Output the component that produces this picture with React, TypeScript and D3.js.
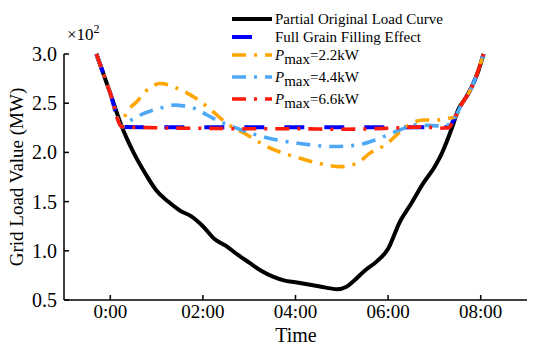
import React from "react";
import * as d3 from "d3";

type P = [number, number];

const xTickValues = [0, 2, 4, 6, 8];
const xTickLabels = ["0:00", "02:00", "04:00", "06:00", "08:00"];
const yTickValues = [0.5, 1.0, 1.5, 2.0, 2.5, 3.0];

const startSeg: P[] = [[-0.3, 3.0], [0, 2.6], [0.25, 2.26]];
const endSeg: P[] = [[7.45, 2.36], [7.6, 2.5], [7.75, 2.61], [7.9, 2.77], [8.06, 3.0]];

const originalLoad: P[] = [
  [-0.3, 3.0], [0, 2.6], [0.25, 2.26], [0.5, 2.0], [0.75, 1.79], [1.0, 1.61], [1.25, 1.5],
  [1.5, 1.41], [1.75, 1.35], [2.0, 1.25], [2.25, 1.12], [2.5, 1.05], [2.75, 0.96], [3.0, 0.88],
  [3.25, 0.8], [3.5, 0.74], [3.75, 0.7], [4.0, 0.68], [4.5, 0.64], [4.9, 0.61], [5.1, 0.635],
  [5.25, 0.69], [5.5, 0.8], [5.75, 0.89], [6.0, 1.02], [6.25, 1.29], [6.5, 1.48], [6.75, 1.68],
  [7.0, 1.85], [7.15, 1.98], [7.38, 2.25], [7.52, 2.44], [7.67, 2.55], [7.85, 2.71], [7.95, 2.83], [8.06, 3.0],
];

const fullFilling: P[] = [
  ...startSeg, [1, 2.255], [3, 2.255], [5, 2.255], [7.3, 2.255], ...endSeg,
];

const pmax22: P[] = [
  ...startSeg, [0.3, 2.35], [0.58, 2.52], [0.86, 2.66], [1.08, 2.7], [1.5, 2.64], [1.94, 2.52],
  [2.23, 2.41], [2.5, 2.3], [2.95, 2.18], [3.38, 2.06], [4.1, 1.94], [4.6, 1.88], [4.97, 1.855],
  [5.33, 1.89], [5.6, 1.99], [5.98, 2.09], [6.26, 2.21], [6.52, 2.3], [6.77, 2.33], [7.06, 2.33],
  [7.34, 2.35], ...endSeg,
];

const pmax44: P[] = [
  ...startSeg, [0.36, 2.3], [0.65, 2.38], [1.08, 2.45], [1.37, 2.48], [1.8, 2.45], [2.09, 2.38],
  [2.38, 2.31], [2.6, 2.27], [3.0, 2.2], [3.38, 2.15], [4.1, 2.09], [4.82, 2.06], [5.33, 2.075],
  [5.9, 2.16], [6.26, 2.23], [6.62, 2.28], [7.06, 2.27], [7.3, 2.28], ...endSeg,
];

const pmax66: P[] = [
  ...startSeg, [1, 2.25], [2, 2.245], [3, 2.24], [4, 2.24], [5, 2.235], [6, 2.245], [6.8, 2.26],
  [7.1, 2.245], [7.3, 2.25], ...endSeg,
];

const legendLabels = ["Partial Original Load Curve", "Full Grain Filling Effect", "=2.2kW", "=4.4kW", "=6.6kW"];

const seriesStyles = [
  { data: originalLoad, color: "#000000", dash: "", width: 4 },
  { data: fullFilling, color: "#0000FF", dash: "20,20", width: 4 },
  { data: pmax22, color: "#FFA500", dash: "14,8,3,8", width: 3.6 },
  { data: pmax44, color: "#4FA8F5", dash: "14,8,3,8", width: 3.6 },
  { data: pmax66, color: "#FF1A0A", dash: "14,8,3,8", width: 3.6 },
];

export default function App() {
  const W = 550, H = 347;
  const left = 64, right = 527, top = 54, bottom = 300;
  const x = d3.scaleLinear().domain([-1, 9]).range([left, right]);
  const y = d3.scaleLinear().domain([0.5, 3.0]).range([bottom, top]);
  const line = d3.line<P>().x(d => x(d[0])).y(d => y(d[1])).curve(d3.curveMonotoneX);
  const font = "Liberation Serif, Times New Roman, serif";
  const legendYs = [19, 37, 55, 77, 99];

  return (
    <svg width={W} height={H} style={{ position: "absolute", left: 0, top: 0, background: "#fff", fontFamily: font }}>
      <defs>
        <clipPath id="plot"><rect x={left} y={top - 3} width={right - left} height={bottom - top + 3} /></clipPath>
      </defs>
      {/* axes */}
      <line x1={left} x2={left} y1={top} y2={bottom} stroke="#000" strokeWidth={1.5} />
      <line x1={left} x2={right} y1={bottom} y2={bottom} stroke="#000" strokeWidth={1.5} />
      {yTickValues.map(v => (
        <g key={v}>
          <line x1={left} x2={left + 5} y1={y(v)} y2={y(v)} stroke="#000" strokeWidth={1.5} />
          <text x={left - 7} y={y(v) + 7} fontSize={20} textAnchor="end">{v.toFixed(1)}</text>
        </g>
      ))}
      {xTickValues.map((v, i) => (
        <g key={v}>
          <line x1={x(v)} x2={x(v)} y1={bottom} y2={bottom - 5} stroke="#000" strokeWidth={1.5} />
          <text x={x(v)} y={bottom + 18} fontSize={19} textAnchor="middle">{xTickLabels[i]}</text>
        </g>
      ))}
      <text x={67} y={40} fontSize={17}>×10<tspan dy={-7} fontSize={12}>2</tspan></text>
      <text x={296} y={342} fontSize={20} textAnchor="middle">Time</text>
      <text transform={`translate(23,${(top + bottom) / 2}) rotate(-90)`} fontSize={19} textAnchor="middle">Grid Load Value (MW)</text>
      {/* series */}
      <g clipPath="url(#plot)">
        {seriesStyles.map((s, i) => (
          <path key={i} d={line(s.data) || ""} fill="none" stroke={s.color} strokeWidth={s.width}
            strokeDasharray={s.dash || undefined} strokeLinejoin="round" />
        ))}
      </g>
      {/* legend */}
      {seriesStyles.map((s, i) => (
        <g key={"lg" + i}>
          <line x1={232} x2={272} y1={legendYs[i]} y2={legendYs[i]} stroke={s.color} strokeWidth={s.width}
            strokeDasharray={s.dash || undefined} />
          {i < 2 ? (
            <text x={275} y={legendYs[i] + 5} fontSize={15}>{legendLabels[i]}</text>
          ) : (
            <text x={275} y={legendYs[i] + 5} fontSize={15}>
              <tspan fontStyle="italic">P</tspan>
              <tspan dy={4}>max</tspan>
              <tspan dy={-4}>{legendLabels[i]}</tspan>
            </text>
          )}
        </g>
      ))}
    </svg>
  );
}
